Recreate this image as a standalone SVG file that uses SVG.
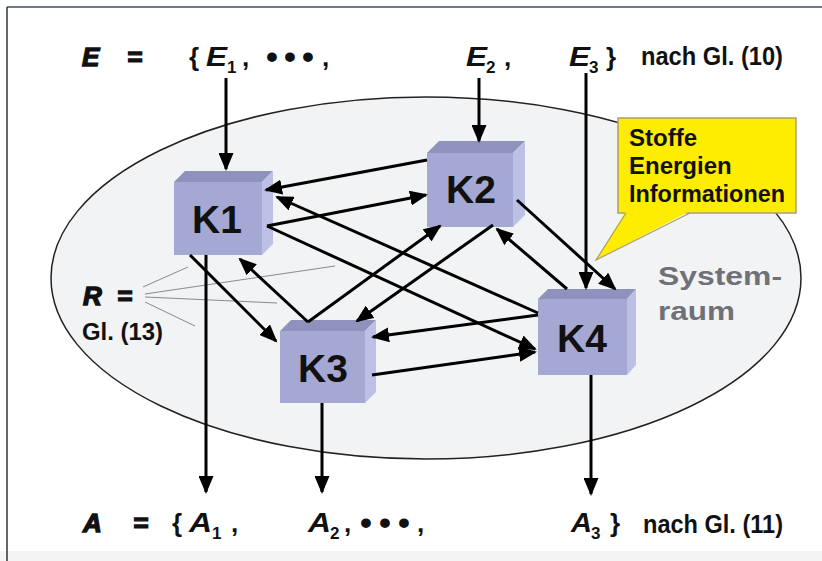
<svg xmlns="http://www.w3.org/2000/svg" width="822" height="561" viewBox="0 0 822 561">
<defs>
<marker id="ah" viewBox="0 0 18 15" refX="16" refY="7.5" markerWidth="18" markerHeight="15" markerUnits="userSpaceOnUse" orient="auto">
<path d="M0,0 L18,7.5 L0,15 z" fill="#000"/>
</marker>
<style>
.t{font-family:"Liberation Sans",Arial,sans-serif;font-weight:bold;fill:#111}
.hv{font-family:"Liberation Sans",Arial,sans-serif;font-weight:bold;font-style:italic;fill:#111;stroke:#111;stroke-width:1.4}
.it{font-family:"Liberation Sans",Arial,sans-serif;font-weight:bold;font-style:italic;fill:#111}
.sub{font-family:"Liberation Sans",Arial,sans-serif;font-weight:bold;font-size:17px;fill:#111}
.k{font-family:"Liberation Sans",Arial,sans-serif;font-weight:bold;font-size:39px;fill:#111;text-anchor:middle}
.front{fill:#a5a8d2}
.top{fill:#8f92bc}
.side{fill:#bcc0e4}
.c{stroke:#000;stroke-width:3;fill:none;marker-end:url(#ah)}
.r{stroke:#8a8a8a;stroke-width:1;fill:none}
</style>
</defs>
<rect x="0" y="0" width="822" height="561" fill="#fff"/>
<rect x="0" y="551" width="822" height="10" fill="#f4f4f4"/>
<line x1="7" y1="7" x2="822" y2="7" stroke="#6f7789" stroke-width="2"/>
<line x1="7" y1="7" x2="7" y2="561" stroke="#333" stroke-width="1.5"/>

<ellipse id="systemraum" cx="426" cy="278" rx="375" ry="181" fill="#f2f3f5" stroke="#222" stroke-width="1.5"/>

<g id="R-lines">
<line class="r" x1="143" y1="287" x2="188" y2="267"/>
<line class="r" x1="145" y1="294" x2="335" y2="266"/>
<line class="r" x1="145" y1="297" x2="277" y2="303"/>
<line class="r" x1="145" y1="302" x2="195" y2="326"/>
</g>

<g id="K1">
<rect class="front" x="174" y="182" width="88" height="73"/>
<path class="top" d="M174,182 L185,171 L273,171 L262,182 Z"/>
<path class="side" d="M262,182 L273,171 L273,244 L262,255 Z"/>
<text class="k" x="217" y="233">K1</text>
</g>
<g id="K2">
<rect class="front" x="427" y="153" width="86" height="74"/>
<path class="top" d="M427,153 L439,141 L525,141 L513,153 Z"/>
<path class="side" d="M513,153 L525,141 L525,215 L513,227 Z"/>
<text class="k" x="471" y="203">K2</text>
</g>
<g id="K3">
<rect class="front" x="280" y="331" width="85" height="72"/>
<path class="top" d="M280,331 L291,320 L376,320 L365,331 Z"/>
<path class="side" d="M365,331 L376,320 L376,392 L365,403 Z"/>
<text class="k" x="323" y="382">K3</text>
</g>
<g id="K4">
<rect class="front" x="538" y="299" width="89" height="76"/>
<path class="top" d="M538,299 L548,289 L636,289 L627,299 Z"/>
<path class="side" d="M627,299 L636,289 L636,365 L627,375 Z"/>
<text class="k" x="582" y="352">K4</text>
</g>

<g id="connectors">
<line class="c" x1="226" y1="78" x2="226" y2="169"/>
<line class="c" x1="479" y1="78" x2="479" y2="141"/>
<line class="c" x1="586" y1="73" x2="586" y2="288"/>
<line class="c" x1="206" y1="255" x2="206" y2="492"/>
<line class="c" x1="322" y1="403" x2="322" y2="492"/>
<line class="c" x1="591" y1="375" x2="591" y2="494"/>
<line class="c" x1="427" y1="160" x2="266" y2="190"/>
<line class="c" x1="267" y1="226" x2="426" y2="195"/>
<line class="c" x1="267" y1="226" x2="535" y2="349"/>
<line class="c" x1="538" y1="313" x2="277" y2="197"/>
<line class="c" x1="538" y1="315" x2="373" y2="337"/>
<line class="c" x1="372" y1="375" x2="535" y2="352"/>
<line class="c" x1="308" y1="322" x2="440" y2="226"/>
<line class="c" x1="308" y1="322" x2="240" y2="259"/>
<line class="c" x1="493" y1="225" x2="357" y2="321"/>
<line class="c" x1="567" y1="289" x2="497" y2="229"/>
<line class="c" x1="517" y1="200" x2="615" y2="289"/>
<line class="c" x1="190" y1="255" x2="276" y2="341"/>
</g>

<g id="callout">
<rect x="618" y="118" width="178" height="95" fill="#ffed00" stroke="#a8a070" stroke-width="1.5"/>
<polygon points="626,211 596,260 690,211" fill="#ffed00"/>
<polyline points="626,213 596,260 690,213" fill="none" stroke="#a8a070" stroke-width="1.2"/>
<text class="t" x="629" y="146" font-size="24">Stoffe</text>
<text class="t" x="629" y="174" font-size="24">Energien</text>
<text class="t" x="629" y="202" font-size="24" textLength="156" lengthAdjust="spacingAndGlyphs">Informationen</text>
</g>

<g id="label-systemraum">
<text x="658" y="285" font-family="Liberation Sans, Arial, sans-serif" font-weight="bold" font-size="26" fill="#707078" textLength="124" lengthAdjust="spacingAndGlyphs">System-</text>
<text x="658" y="320" font-family="Liberation Sans, Arial, sans-serif" font-weight="bold" font-size="26" fill="#707078" textLength="77" lengthAdjust="spacingAndGlyphs">raum</text>
</g>

<g id="E-row">
<text class="hv" x="82" y="66" font-size="26">E</text>
<text class="hv" x="127" y="66" font-size="26">=</text>
<text class="t" x="189" y="66" font-size="26">{</text>
<text class="it" x="206" y="66" font-size="27" textLength="21" lengthAdjust="spacingAndGlyphs">E</text>
<text class="sub" x="227" y="73">1</text>
<text class="t" x="242" y="66" font-size="26">,</text>
<text class="t" x="266" y="68" font-size="34" textLength="48" lengthAdjust="spacing">•••</text>
<text class="t" x="322" y="66" font-size="26">,</text>
<text class="it" x="466" y="66" font-size="27" textLength="21" lengthAdjust="spacingAndGlyphs">E</text>
<text class="sub" x="486" y="73">2</text>
<text class="t" x="504" y="66" font-size="26">,</text>
<text class="it" x="569" y="66" font-size="27" textLength="21" lengthAdjust="spacingAndGlyphs">E</text>
<text class="sub" x="589" y="73">3</text>
<text class="t" x="606" y="66" font-size="26">}</text>
<text class="t" x="641" y="65" font-size="25" textLength="142" lengthAdjust="spacingAndGlyphs">nach Gl. (10)</text>
</g>

<g id="R-label">
<text class="hv" x="83" y="305" font-size="26">R</text>
<text class="hv" x="117" y="305" font-size="26">=</text>
<text class="t" x="82" y="340" font-size="23" textLength="81" lengthAdjust="spacingAndGlyphs">Gl. (13)</text>
</g>

<g id="A-row">
<text class="hv" x="83" y="532" font-size="26">A</text>
<text class="hv" x="133" y="532" font-size="26">=</text>
<text class="t" x="172" y="532" font-size="26">{</text>
<text class="it" x="189" y="532" font-size="27" textLength="23" lengthAdjust="spacingAndGlyphs">A</text>
<text class="sub" x="212" y="539">1</text>
<text class="t" x="231" y="532" font-size="26">,</text>
<text class="it" x="308" y="532" font-size="27" textLength="23" lengthAdjust="spacingAndGlyphs">A</text>
<text class="sub" x="330" y="539">2</text>
<text class="t" x="344" y="532" font-size="26">,</text>
<text class="t" x="360" y="534" font-size="34" textLength="50" lengthAdjust="spacing">•••</text>
<text class="t" x="417" y="532" font-size="26">,</text>
<text class="it" x="571" y="532" font-size="27" textLength="21" lengthAdjust="spacingAndGlyphs">A</text>
<text class="sub" x="591" y="539">3</text>
<text class="t" x="610" y="532" font-size="26">}</text>
<text class="t" x="643" y="533" font-size="25" textLength="140" lengthAdjust="spacingAndGlyphs">nach Gl. (11)</text>
</g>
</svg>
